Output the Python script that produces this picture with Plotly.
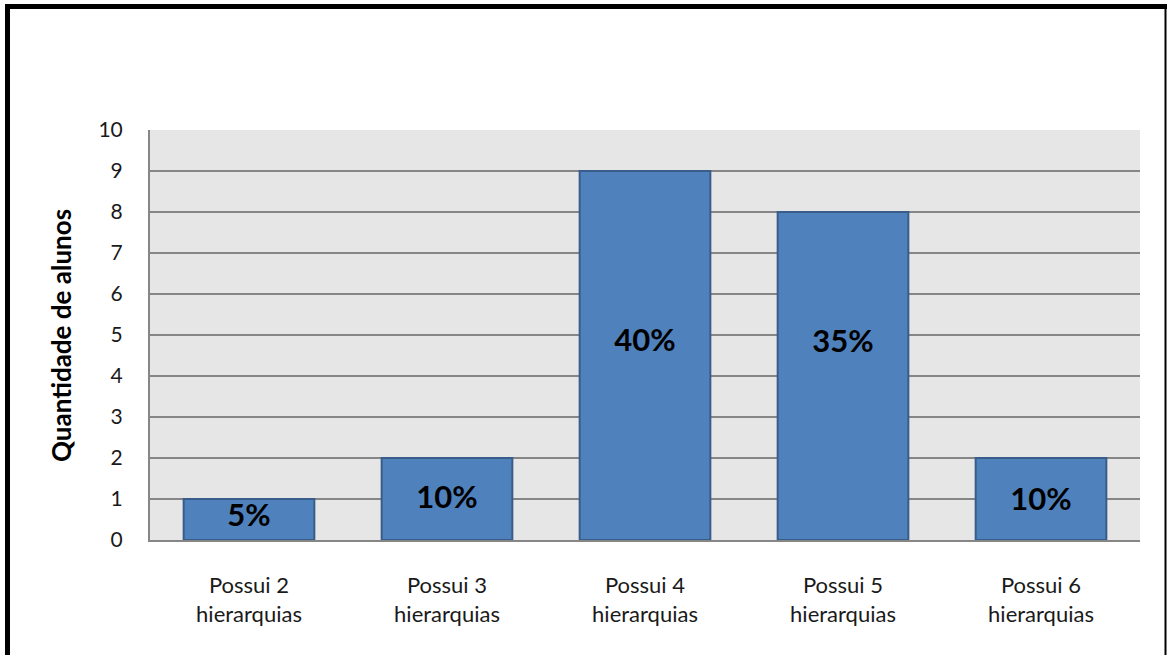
import plotly.graph_objects as go

categories = ["Possui 2<br>hierarquias", "Possui 3<br>hierarquias", "Possui 4<br>hierarquias",
              "Possui 5<br>hierarquias", "Possui 6<br>hierarquias"]
values = [1, 2, 9, 8, 2]
labels = ["5%", "10%", "40%", "35%", "10%"]
label_y = [0.52, 0.98, 4.8, 4.78, 0.93]
y_ticks = list(range(0, 11))

W, H = 1167, 655
L, R, T, B = 150, 1140, 130, 540

def px(x):
    return (x - L) / (R - L)

def py(y):
    return (B - y) / (B - T)

fig = go.Figure()
fig.add_trace(go.Bar(
    x=categories, y=values,
    marker=dict(color="#4F81BD", line=dict(color="#385D8A", width=2)),
    width=0.66, hoverinfo="skip", showlegend=False,
))
fig.add_trace(go.Scatter(
    x=categories, y=label_y, text=labels, mode="text",
    textfont=dict(family="Lato", size=31, color="#000000", weight="bold"),
    textposition="middle center", showlegend=False, hoverinfo="skip",
))

fig.update_layout(
    width=W, height=H,
    margin=dict(l=L, r=W - R, t=T, b=H - B, autoexpand=False),
    paper_bgcolor="#FFFFFF", plot_bgcolor="#E6E6E6",
    font=dict(family="Lato", color="#1a1a1a"),
)
fig.update_xaxes(
    showgrid=False, showline=True, linecolor="#868686", linewidth=2,
    tickfont=dict(size=22, color="#1a1a1a"), ticks="", ticklabelstandoff=25,
    automargin=False, fixedrange=True,
)
fig.update_yaxes(
    range=[0, 10], tickvals=y_ticks, ticktext=[str(v) for v in y_ticks],
    showgrid=True, gridcolor="#868686", gridwidth=1.5,
    showline=True, linecolor="#868686", linewidth=2,
    zeroline=False, tickfont=dict(size=21, color="#1a1a1a"), ticks="",
    ticklabelstandoff=21, automargin=False, fixedrange=True,
)
fig.add_annotation(
    text="<b>Quantidade de alunos</b>", textangle=-90,
    xref="paper", yref="paper", x=px(61), y=py(336),
    showarrow=False, font=dict(family="Lato", size=26, color="#000000"),
    xanchor="center", yanchor="middle",
)
# black frame
fig.add_shape(type="line", xref="paper", yref="paper",
              x0=px(5), x1=px(1167), y0=py(6.5), y1=py(6.5), line=dict(color="#000000", width=5))
fig.add_shape(type="line", xref="paper", yref="paper",
              x0=px(7.5), x1=px(7.5), y0=py(4), y1=py(660), line=dict(color="#000000", width=5))
fig.add_shape(type="line", xref="paper", yref="paper",
              x0=px(1165.5), x1=px(1165.5), y0=py(4), y1=py(660), line=dict(color="#000000", width=2))

fig.write_html("out.html")
